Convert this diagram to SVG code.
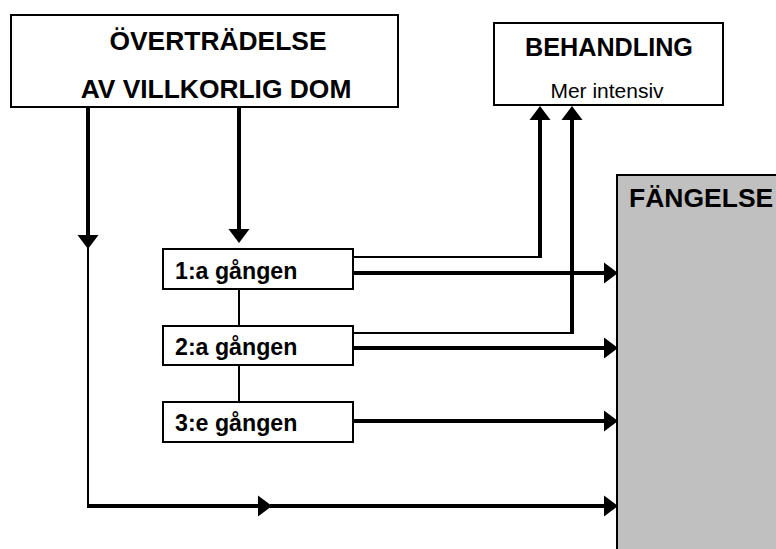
<svg xmlns="http://www.w3.org/2000/svg" width="776" height="549" viewBox="0 0 776 549">
<style>
.box{fill:#fff;stroke:#000;stroke-width:2}
.gray{fill:#c0c0c0;stroke:#000;stroke-width:2}
.b{font-family:"Liberation Sans",Arial,sans-serif;font-weight:bold;fill:#000}
.r{font-family:"Liberation Sans",Arial,sans-serif;fill:#000}
.thick{fill:none;stroke:#000;stroke-width:4}
.thin{fill:none;stroke:#000;stroke-width:2}
</style>
<defs>
<marker id="ah" markerUnits="userSpaceOnUse" markerWidth="16" markerHeight="22" refX="0" refY="10.5" orient="auto" overflow="visible">
<path d="M0,0 L14,10.5 L0,21 z" fill="#000"/>
</marker>
</defs>
<g id="fangelse">
<rect class="gray" x="617" y="175" width="170" height="390"/>
<text class="b" x="629" y="207" font-size="26.5">FÄNGELSE</text>
</g>
<g id="overtradelse">
<rect class="box" x="11" y="15" width="387" height="92"/>
<text class="b" x="218" y="50" font-size="26.4" text-anchor="middle">ÖVERTRÄDELSE</text>
<text class="b" x="216" y="98" font-size="26.4" text-anchor="middle">AV VILLKORLIG DOM</text>
</g>
<g id="behandling">
<rect class="box" x="494" y="23" width="229" height="82"/>
<text class="b" x="609" y="56" font-size="25.2" text-anchor="middle">BEHANDLING</text>
<text class="r" x="607" y="98" font-size="21" text-anchor="middle">Mer intensiv</text>
</g>
<g id="forsta">
<rect class="box" x="163" y="249" width="190" height="40"/>
<text class="b" x="175" y="279" font-size="23.2">1:a gången</text>
</g>
<g id="andra">
<rect class="box" x="163" y="326" width="190" height="39"/>
<text class="b" x="175" y="355" font-size="23.2">2:a gången</text>
</g>
<g id="tredje">
<rect class="box" x="163" y="402" width="190" height="40"/>
<text class="b" x="175" y="431" font-size="23.2">3:e gången</text>
</g>
<g id="connectors">
<path class="thick" d="M88,107 V235" marker-end="url(#ah)"/>
<path class="thin" d="M88,248 V507"/>
<path class="thick" d="M87,506 H258" marker-end="url(#ah)"/>
<path class="thick" d="M270,506 H604" marker-end="url(#ah)"/>
<path class="thick" d="M239,107 V229" marker-end="url(#ah)"/>
<path class="thin" d="M239,289 V326"/>
<path class="thin" d="M239,365 V402"/>
<path class="thin" d="M353,257 H541"/>
<path class="thick" d="M540,258 V120" marker-end="url(#ah)"/>
<path class="thin" d="M353,333 H573"/>
<path class="thick" d="M572,334 V120" marker-end="url(#ah)"/>
<path class="thick" d="M353,273 H604" marker-end="url(#ah)"/>
<path class="thick" d="M353,348 H604" marker-end="url(#ah)"/>
<path class="thick" d="M353,421 H604" marker-end="url(#ah)"/>
</g>
</svg>
